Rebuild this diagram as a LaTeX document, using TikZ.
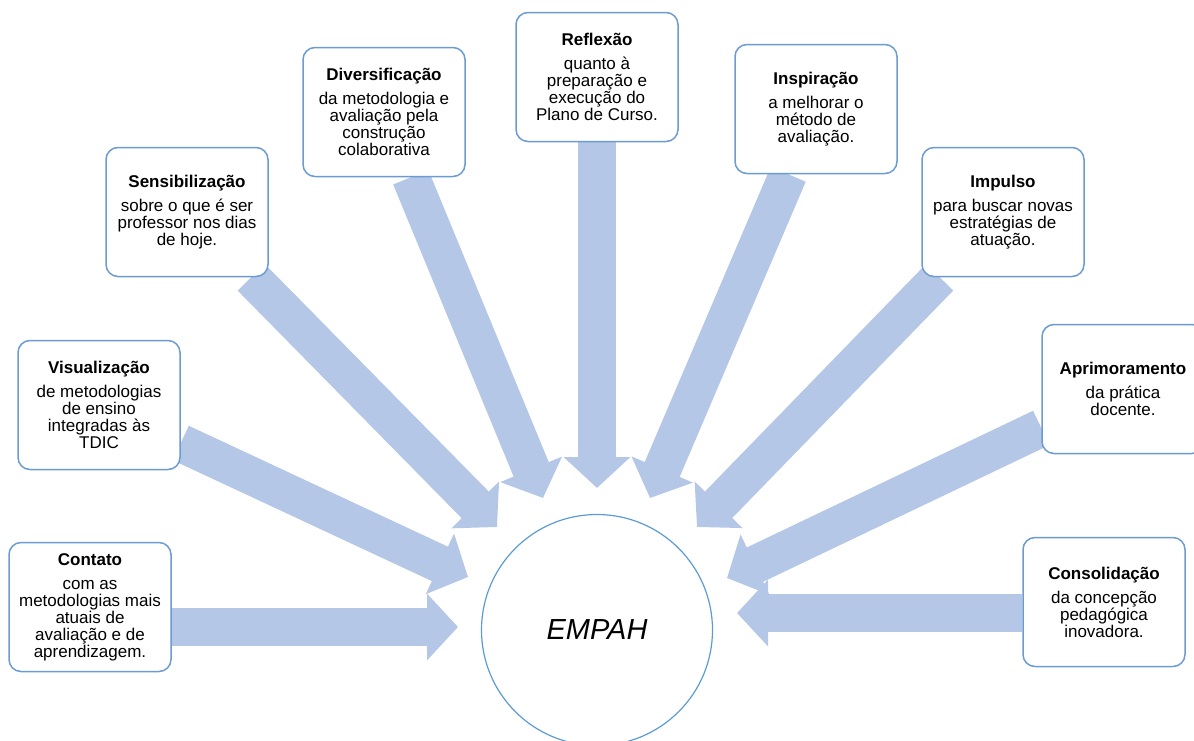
\documentclass[tikz,border=0pt]{standalone}
\usepackage{fontspec}
\setmainfont{Liberation Sans}
\usetikzlibrary{arrows.meta,backgrounds}
\definecolor{boxblue}{HTML}{6C9BD2}
\definecolor{circblue}{HTML}{5B9BD5}
\definecolor{rayblue}{HTML}{B4C7E7}

\begin{document}
\begin{tikzpicture}[x=1pt,y=-1pt,
		caixa/.style={draw=boxblue, line width=1.5pt, rounded corners=12pt, fill=white, minimum width=162pt, minimum height=129pt, inner sep=0pt, align=center, font=\fontsize{17}{17}\selectfont},
		raio/.style={rayblue, line width=38pt, -{Triangle[width=65pt,length=31pt]}}]
		\useasboundingbox (0,0) rectangle (1194,740);
		\clip (0,0) rectangle (1194,740);
		\node[caixa] (contato) at (90,607) {\textbf{Contato}\\[7pt]com as\\metodologias mais\\atuais de\\avaliação e de\\aprendizagem.};
		\node[caixa] (visual) at (99,405) {\textbf{Visualização}\\[7pt]de metodologias\\de ensino\\integradas às\\TDIC};
		\node[caixa] (sensib) at (187,212) {\textbf{Sensibilização}\\[7pt]sobre o que é ser\\professor nos dias\\de hoje.};
		\node[caixa] (divers) at (384,112) {\textbf{Diversificação}\\[7pt]da metodologia e\\avaliação pela\\construção\\colaborativa};
		\node[caixa] (reflex) at (597,77) {\textbf{Reflexão}\\[7pt]quanto à\\preparação e\\execução do\\Plano de Curso.};
		\node[caixa] (inspir) at (816,109) {\textbf{Inspiração}\\[7pt]a melhorar o\\método de\\avaliação.};
		\node[caixa] (impuls) at (1003,212) {\textbf{Impulso}\\[7pt]para buscar novas\\estratégias de\\atuação.};
		\node[caixa] (aprim) at (1123,389) {\textbf{Aprimoramento}\\[7pt]da prática\\docente.};
		\node[caixa] (consol) at (1104,602) {\textbf{Consolidação}\\[7pt]da concepção\\pedagógica\\inovadora.};
		\node[circle, draw=circblue, line width=1.2pt, minimum size=231pt, font=\fontsize{29}{30}\selectfont\itshape] (empah) at (597,630) {EMPAH};
		% pontas das setas
		\coordinate (tA) at (458,627);
		\coordinate (tB) at (468,577);
		\coordinate (tC) at (497,527);
		\coordinate (tD) at (543,498);
		\coordinate (tE) at (597,488);
		\coordinate (tF) at (650,498);
		\coordinate (tG) at (697,527);
		\coordinate (tH) at (727,578);
		\coordinate (tI) at (737,613);
		\begin{scope}[on background layer]
			\draw[raio] (contato.east |- tA) -- (tA);
			\draw[raio] (visual) -- (tB);
			\draw[raio] (sensib) -- (tC);
			\draw[raio] (divers) -- (tD);
			\draw[raio] (reflex) -- (tE);
			\draw[raio] (inspir) -- (tF);
			\draw[raio] (impuls) -- (tG);
			\draw[raio] (aprim) -- (tH);
			\draw[raio] (consol.west |- tI) -- (tI);
		\end{scope}
\end{tikzpicture}
\end{document}
